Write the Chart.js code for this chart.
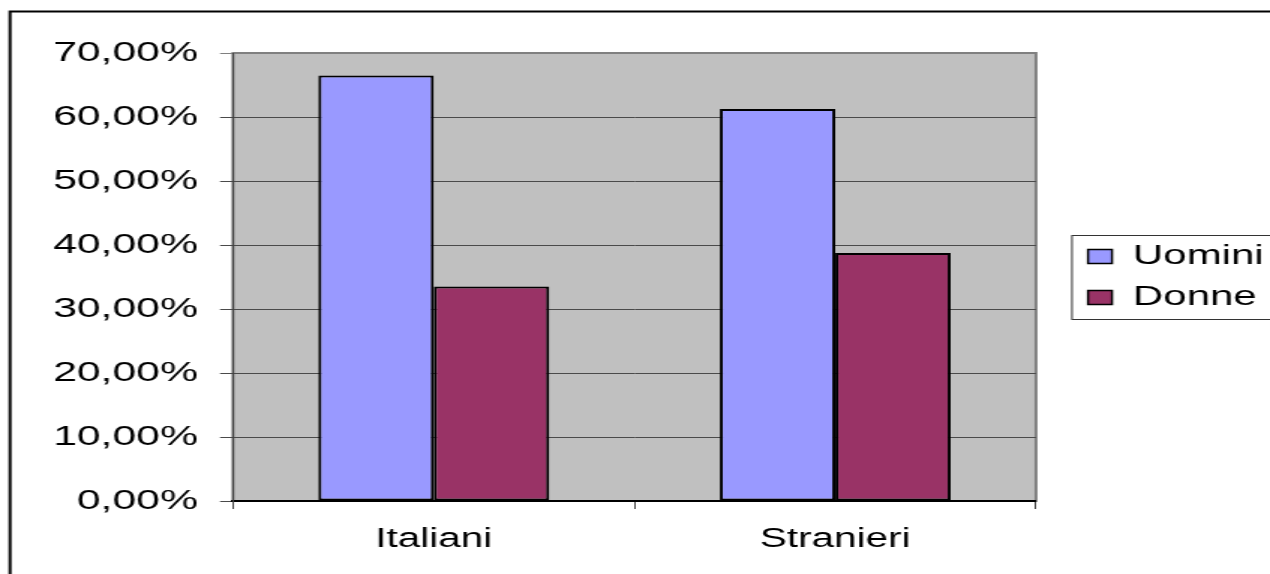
<!DOCTYPE html>
<html>
<head>
<meta charset="utf-8">
<title>Uomini e Donne</title>
<script src="https://cdn.jsdelivr.net/npm/chart.js@4.4.1/dist/chart.umd.min.js"></script>
<style>
  html, body { margin: 0; padding: 0; background: #fff; overflow: hidden; }
  /* the reference is stretched sideways, so draw narrow and scale in x */
  #wrap { width: 847px; height: 574px; transform: scaleX(1.49941); transform-origin: 0 0; }
</style>
</head>
<body>
<div id="wrap"><canvas id="chart" width="847" height="574"></canvas></div>
<script>
// Values (percent)
const categories = ['Italiani', 'Stranieri'];
const seriesNames = ['Uomini', 'Donne'];
const uomini = [66.5, 61.25];
const donne = [33.5, 38.75];
const seriesColors = ['#9999ff', '#993366'];
const yTickLabels = ['0,00%', '10,00%', '20,00%', '30,00%', '40,00%', '50,00%', '60,00%', '70,00%'];

const CW = 847;
const SX = 1270 / CW;
const px = x => x / SX; // reference x -> canvas x
const FAMILY = "'Liberation Sans', Arial, sans-serif";
const LEG_PAD = 13;

// Plot background, outer frame and legend box (Excel look)
const frame = {
  id: 'frame',
  afterLayout(chart) {
    // park the legend next to its box, to the right of the plot
    const lg = chart.legend;
    if (!lg) return;
    lg.left = px(1088) - LEG_PAD;
    lg.width = 300;
    lg.right = lg.left + lg.width;
    lg.top = 53;
    lg.bottom = 501;
    lg.height = lg.bottom - lg.top;
  },
  beforeDraw(chart) {
    const { ctx, chartArea: a } = chart;
    ctx.save();
    ctx.fillStyle = '#c0c0c0';
    ctx.fillRect(a.left, a.top, a.right - a.left, a.bottom - a.top);
    ctx.strokeStyle = '#808080';
    ctx.lineWidth = 2;
    ctx.strokeRect(a.left, a.top, a.right - a.left, a.bottom - a.top);

    ctx.strokeStyle = '#000';
    ctx.lineWidth = 2;
    ctx.strokeRect(px(10), 11.5, 2000, 2000);

    ctx.strokeStyle = '#333';
    ctx.lineWidth = 1;
    ctx.strokeRect(px(1072), 235.5, 400, 84);
    ctx.restore();
  }
};

new Chart(document.getElementById('chart'), {
  type: 'bar',
  data: {
    labels: categories,
    datasets: [uomini, donne].map((vals, i) => ({
      label: seriesNames[i],
      data: vals,
      backgroundColor: seriesColors[i],
      borderColor: '#000',
      borderWidth: 2,
      borderSkipped: false,
      categoryPercentage: 0.575,
      barPercentage: 1.0
    }))
  },
  options: {
    responsive: false,
    animation: false,
    devicePixelRatio: 1,
    layout: { padding: { top: 53, left: 0, right: CW - px(1036) - 60, bottom: 0 } },
    plugins: {
      title: { display: false },
      tooltip: { enabled: false },
      legend: {
        position: 'right',
        align: 'center',
        maxWidth: 60,
        labels: {
          font: { family: FAMILY, size: 28 },
          color: '#000',
          boxWidth: 16,
          boxHeight: 14,
          padding: LEG_PAD,
          generateLabels: chart => Chart.defaults.plugins.legend.labels.generateLabels(chart)
            .map(l => ({ ...l, lineWidth: 1.5 }))
        }
      }
    },
    scales: {
      x: {
        afterFit: s => { s.height = 574 - 501; },
        grid: {
          display: true,
          drawOnChartArea: false,
          drawTicks: true,
          tickLength: 8,
          color: '#404040',
          offset: true
        },
        border: { display: true, color: '#000', width: 2 },
        ticks: { font: { family: FAMILY, size: 27 }, color: '#000', padding: 14, maxRotation: 0 }
      },
      y: {
        min: 0,
        max: 70,
        afterFit: s => { s.width = px(233); },
        grid: {
          color: ctx => (ctx.tick && ctx.tick.value === 70 ? '#808080' : '#4a4a4a'),
          lineWidth: 1,
          drawTicks: true,
          tickLength: px(13)
        },
        border: { display: true, color: '#404040', width: 1 },
        ticks: {
          stepSize: 10,
          autoSkip: false,
          font: { family: FAMILY, size: 28.5 },
          color: '#000',
          padding: px(233) - px(13) - px(198),
          callback: (v, i) => yTickLabels[i]
        }
      }
    }
  },
  plugins: [frame]
});
</script>
</body>
</html>
